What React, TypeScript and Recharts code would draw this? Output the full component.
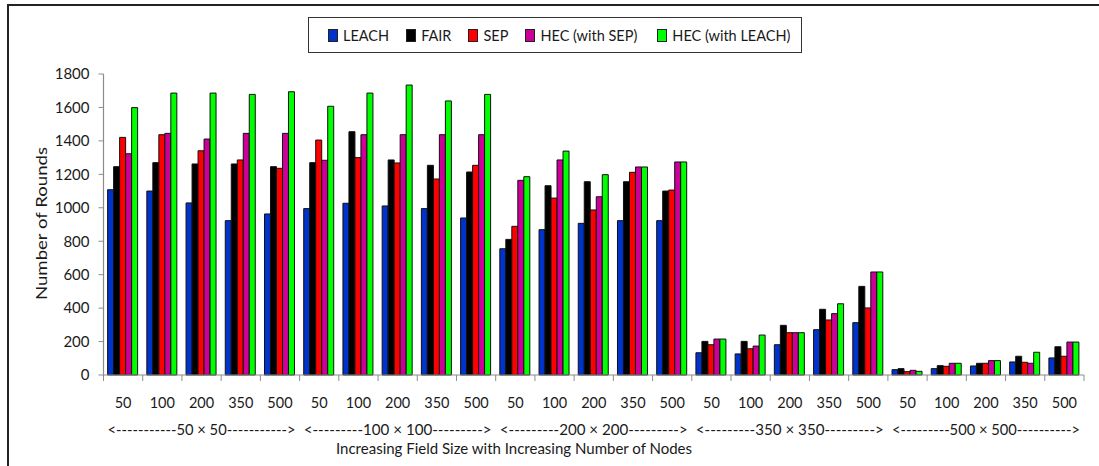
import React from 'react';
import { BarChart, Bar, XAxis, YAxis } from 'recharts';

const nodeCounts = [
  '50', '100', '200', '350', '500',
  '50', '100', '200', '350', '500',
  '50', '100', '200', '350', '500',
  '50', '100', '200', '350', '500',
  '50', '100', '200', '350', '500',
];
const groupLabels = [
  '<-----------50 × 50----------->',
  '<---------100 × 100--------->',
  '<---------200 × 200--------->',
  '<---------350 × 350--------->',
  '<---------500 × 500---------->',
];
const leach = [1108, 1100, 1029, 923, 963, 995, 1027, 1011, 995, 939, 755, 869, 907, 923, 923, 133, 126, 181, 271, 313, 32, 38, 54, 78, 102];
const fair = [1246, 1270, 1262, 1262, 1246, 1270, 1455, 1286, 1254, 1214, 811, 1132, 1156, 1156, 1100, 201, 201, 297, 393, 530, 38, 56, 70, 112, 169];
const sep = [1421, 1437, 1341, 1286, 1236, 1405, 1300, 1268, 1172, 1254, 889, 1058, 987, 1212, 1106, 181, 157, 253, 329, 401, 20, 52, 70, 76, 112];
const hecSep = [1323, 1445, 1411, 1445, 1445, 1284, 1437, 1437, 1437, 1437, 1164, 1286, 1066, 1244, 1274, 215, 173, 253, 367, 616, 28, 70, 86, 70, 197];
const hecLeach = [1599, 1686, 1686, 1678, 1694, 1607, 1686, 1734, 1639, 1678, 1186, 1339, 1198, 1244, 1274, 215, 239, 253, 426, 616, 22, 70, 86, 136, 197];
const yTicks = [0, 200, 400, 600, 800, 1000, 1200, 1400, 1600, 1800];

const seriesNames = ['LEACH', 'FAIR', 'SEP', 'HEC (with SEP)', 'HEC (with LEACH)'];
const seriesColors = ['#0033CC', '#000000', '#FF0000', '#CC0099', '#00FF00'];
const seriesValues = [leach, fair, sep, hecSep, hecLeach];

const data = nodeCounts.map((n, i) => {
  const row: Record<string, string | number> = { n };
  seriesNames.forEach((name, s) => {
    row[name] = seriesValues[s][i];
  });
  return row;
});

const W = 1099;
const H = 466;
const PLOT_LEFT = 103.5;
const PLOT_RIGHT = 1084;
const PLOT_TOP = 74;
const PLOT_BOTTOM = 375;
const BAND = (PLOT_RIGHT - PLOT_LEFT) / nodeCounts.length;
const FONT = 'Lato, "Open Sans", sans-serif';
const TEXT = '#1a1a1a';
const AXIS = '#8c8c8c';

function XTick(props: any) {
  const { x, y, payload } = props;
  const i: number = payload.index;
  return (
    <g>
      <line x1={x - BAND / 2} y1={y} x2={x - BAND / 2} y2={y + 6} stroke={AXIS} strokeWidth={1} />
      {i === nodeCounts.length - 1 && (
        <line x1={x + BAND / 2} y1={y} x2={x + BAND / 2} y2={y + 6} stroke={AXIS} strokeWidth={1} />
      )}
      <text x={x} y={y + 27} textAnchor="middle" dominantBaseline="central" fontFamily={FONT} fontSize={14.5} fill={TEXT}>
        {payload.value}
      </text>
      {i % 5 === 2 && (
        <text
          x={x}
          y={y + 54}
          textAnchor="middle"
          dominantBaseline="central"
          fontFamily={FONT}
          fontSize={14.5}
          fill={TEXT}
          textLength={188}
          lengthAdjust="spacingAndGlyphs"
        >
          {groupLabels[Math.floor(i / 5)]}
        </text>
      )}
    </g>
  );
}

function YTitle() {
  const cx = 40;
  const cy = 223.5;
  return (
    <text
      x={cx}
      y={cy}
      transform={`rotate(-90 ${cx} ${cy})`}
      textAnchor="middle"
      dominantBaseline="central"
      fontFamily={FONT}
      fontSize={16}
      fill={TEXT}
      textLength={153}
      lengthAdjust="spacingAndGlyphs"
    >
      Number of Rounds
    </text>
  );
}

export default function App() {
  return (
    <div style={{ position: 'absolute', left: 0, top: 0, width: W, height: H, overflow: 'hidden', background: '#fff' }}>
      <div
        style={{
          position: 'absolute',
          left: 7,
          top: 4,
          width: 1200,
          height: 700,
          border: '2px solid #222',
          boxSizing: 'border-box',
        }}
      />
      <div style={{ position: 'absolute', left: 0, top: 0 }}>
        <BarChart
          width={W}
          height={H}
          data={data}
          margin={{ top: PLOT_TOP, right: W - PLOT_RIGHT, left: 0, bottom: 0 }}
          barCategoryGap="10.5%"
          barGap={0}
        >
          <XAxis
            dataKey="n"
            interval={0}
            height={H - PLOT_BOTTOM}
            tickLine={false}
            tickSize={0}
            tickMargin={0}
            axisLine={{ stroke: AXIS, strokeWidth: 1.2 }}
            tick={<XTick />}
          />
          <YAxis
            width={PLOT_LEFT}
            domain={[0, 1800]}
            ticks={yTicks}
            interval={0}
            tickSize={5}
            tickMargin={9}
            axisLine={{ stroke: AXIS, strokeWidth: 1.2 }}
            tickLine={{ stroke: AXIS }}
            tick={{ fontFamily: FONT, fontSize: 15, fill: TEXT }}
            label={<YTitle />}
          />
          {seriesNames.map((name, s) => (
            <Bar
              key={name}
              dataKey={name}
              fill={seriesColors[s]}
              stroke="#111"
              strokeWidth={1}
              isAnimationActive={false}
            />
          ))}
        </BarChart>
      </div>
      <div
        style={{
          position: 'absolute',
          left: 308,
          top: 17,
          width: 494,
          height: 36,
          border: '1.5px solid #333',
          boxSizing: 'border-box',
          display: 'flex',
          alignItems: 'center',
          paddingLeft: 19,
          fontFamily: FONT,
          fontSize: 14.5,
          color: TEXT,
          background: '#fff',
          whiteSpace: 'nowrap',
          overflow: 'hidden',
        }}
      >
        {seriesNames.map((name, s) => (
          <div key={name} style={{ display: 'flex', alignItems: 'center', marginRight: s === 3 ? 20 : 17, flexShrink: 0 }}>
            <span
              style={{
                display: 'inline-block',
                width: 8,
                height: 11,
                background: seriesColors[s],
                border: '1px solid #222',
                marginRight: 5,
                flexShrink: 0,
              }}
            />
            <span style={{ whiteSpace: 'nowrap' }}>{name}</span>
          </div>
        ))}
      </div>
      <div
        style={{
          position: 'absolute',
          left: 330,
          top: 438,
          width: 368,
          textAlign: 'center',
          fontFamily: FONT,
          fontSize: 15,
          color: TEXT,
          whiteSpace: 'nowrap',
          lineHeight: '20px',
        }}
      >
        Increasing Field Size with Increasing Number of Nodes
      </div>
    </div>
  );
}
